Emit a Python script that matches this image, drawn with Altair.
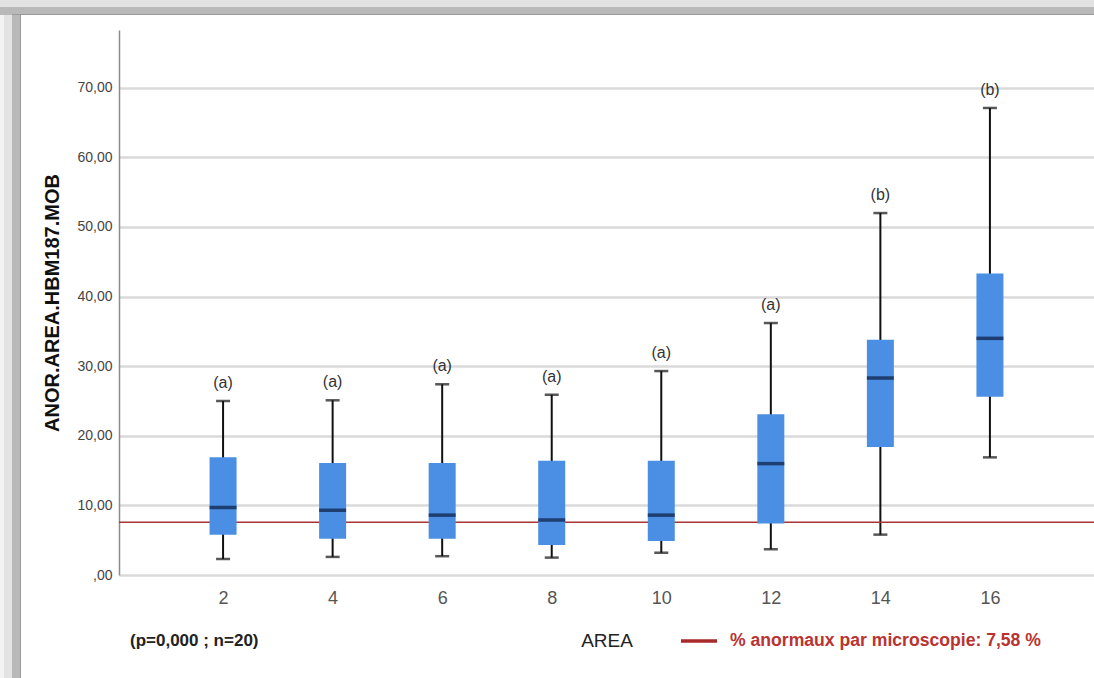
import altair as alt
import pandas as pd

# AREA groups and box-plot summary values (ANOR.AREA.HBM187.MOB)
areas = ["2", "4", "6", "8", "10", "12", "14", "16"]
whisker_low = [2.3, 2.6, 2.7, 2.5, 3.2, 3.7, 5.8, 16.9]
q1 = [5.8, 5.2, 5.2, 4.3, 4.9, 7.4, 18.4, 25.6]
median = [9.7, 9.3, 8.6, 7.9, 8.6, 16.0, 28.3, 34.0]
q3 = [16.9, 16.1, 16.1, 16.4, 16.4, 23.1, 33.8, 43.3]
whisker_high = [25.0, 25.1, 27.4, 25.9, 29.3, 36.2, 52.0, 67.1]
groups = ["(a)", "(a)", "(a)", "(a)", "(a)", "(a)", "(b)", "(b)"]

threshold = 7.58
legend_label = "% anormaux par microscopie: 7,58 %"
stats_label = "(p=0,000 ; n=20)"

df = pd.DataFrame({
    "area": areas, "low": whisker_low, "q1": q1, "median": median,
    "q3": q3, "high": whisker_high, "group": groups,
})
one = pd.DataFrame({"threshold": [threshold], "legend": [legend_label],
                    "stats": [stats_label]})

W, H = 975, 545
FONT = "Liberation Sans"

x = alt.X("area:O", sort=areas,
          scale=alt.Scale(type="point", padding=0.95),
          axis=alt.Axis(title="AREA", labelAngle=0, labelFontSize=18,
                        labelColor="#555555", labelPadding=14, ticks=False,
                        domain=False, grid=False, titleFontSize=19,
                        titleFontWeight="normal", titleColor="#222222",
                        titlePadding=24, labelFont=FONT, titleFont=FONT))
y_scale = alt.Scale(domain=[0, 78.3], nice=False, zero=True)
y_axis = alt.Axis(
    title="ANOR.AREA.HBM187.MOB", values=[0, 10, 20, 30, 40, 50, 60, 70],
    labelExpr="datum.value == 0 ? ',00' : replace(format(datum.value, '.2f'), '.', ',')",
    labelFontSize=14, labelColor="#444444", labelPadding=7, ticks=False,
    domainColor="#8c8c8c", domainWidth=1.5, grid=True, gridColor="#dadada",
    gridWidth=2.5, titleFontSize=20, titleFontWeight="bold", titleColor="#111111",
    titlePadding=14, labelFont=FONT, titleFont=FONT,
)

base = alt.Chart(df)

whiskers = base.mark_rule(color="#111111", strokeWidth=2).encode(
    x=x, y=alt.Y("low:Q", scale=y_scale, axis=y_axis), y2="high:Q")
caps_low = base.mark_tick(color="#111111", size=14, thickness=2.5).encode(
    x=x, y=alt.Y("low:Q", scale=y_scale))
caps_high = base.mark_tick(color="#111111", size=14, thickness=2.5).encode(
    x=x, y=alt.Y("high:Q", scale=y_scale))
boxes = base.mark_bar(color="#4a8fe3", size=27).encode(
    x=x, y=alt.Y("q1:Q", scale=y_scale), y2="q3:Q")
medians = base.mark_tick(color="#0b1b40", size=27, thickness=3.5).encode(
    x=x, y=alt.Y("median:Q", scale=y_scale))
letters = base.mark_text(font=FONT, fontSize=16, color="#333333", dy=-18,
                         baseline="middle").encode(
    x=x, y=alt.Y("high:Q", scale=y_scale), text="group:N")

ref_line = alt.Chart(one).mark_rule(color="#a93434", strokeWidth=1.5).encode(
    y=alt.Y("threshold:Q", scale=y_scale))

# footer: test statistics and reference-line legend
stats_text = alt.Chart(one).mark_text(
    font=FONT, fontSize=17, fontWeight="bold", color="#222222",
    align="left", baseline="middle").encode(
    x=alt.value(11), y=alt.value(611), text="stats:N")
legend_line = alt.Chart(one).mark_rule(color="#a82a2a", strokeWidth=3.5).encode(
    x=alt.value(562), x2=alt.value(598), y=alt.value(611))
legend_text = alt.Chart(one).mark_text(
    font=FONT, fontSize=17.6, fontWeight="bold", color="#bb3330",
    align="left", baseline="middle").encode(
    x=alt.value(611), y=alt.value(611), text="legend:N")

# window-style shaded frame on the top and left edges
frame_specs = [
    (-119, W + 10, -30, -23, "#e2e2e2"),
    (-119, W + 10, -23, -15, "#b9b9b9"),
    (-119, -115, -15, H + 103, "#f3f3f3"),
    (-115, -107, -15, H + 103, "#e3e3e3"),
    (-107, -99, -15, H + 103, "#b9b9b9"),
    (-99, -98, -15, H + 103, "#9a9a9a"),
    (-107, W + 10, -16, -15, "#9a9a9a"),
]
frame_layers = []
for x0, x1, y0, y1, col in frame_specs:
    frame_layers.append(
        alt.Chart(one).mark_rect(color=col).encode(
            x=alt.value(x0), x2=alt.value(x1), y=alt.value(y0), y2=alt.value(y1))
    )

chart = alt.layer(
    whiskers, *frame_layers, ref_line, boxes, medians, caps_low, caps_high,
    letters, stats_text, legend_line, legend_text,
).properties(
    width=W, height=H,
    padding={"left": 119, "top": 30, "right": 0, "bottom": 103},
    autosize="none",
).configure(font=FONT, background="white").configure_view(
    stroke="transparent", strokeWidth=0)

chart.save("out.html", embed_options={"renderer": "svg", "actions": False})
